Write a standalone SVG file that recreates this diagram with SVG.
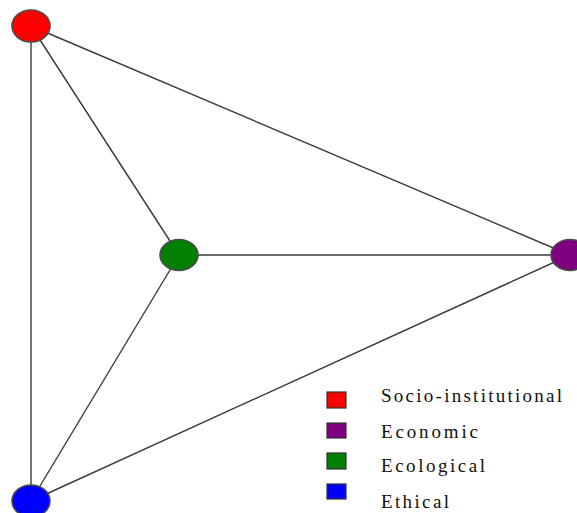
<svg xmlns="http://www.w3.org/2000/svg" width="577" height="513" viewBox="0 0 577 513">
  <style>
    .edge { stroke: #3a3a3a; stroke-width: 1.4; fill: none; }
    .node { stroke: #4a4a4a; stroke-width: 1.6; }
    .key { stroke: #333; stroke-width: 1.2; }
    .label { font-family: "Liberation Serif", "Times New Roman", serif; font-size: 19px; fill: #111; }
  </style>
  <rect width="577" height="513" fill="#ffffff"/>

  <g id="connectors">
    <line class="edge" x1="31" y1="26" x2="31" y2="501"/>
    <line class="edge" x1="31" y1="26" x2="179" y2="255"/>
    <line class="edge" x1="31" y1="26" x2="570" y2="255"/>
    <line class="edge" x1="179" y1="255" x2="570" y2="255"/>
    <line class="edge" x1="179" y1="255" x2="31" y2="501"/>
    <line class="edge" x1="31" y1="501" x2="570" y2="255"/>
  </g>

  <g id="node-socio-institutional">
    <ellipse class="node" cx="31" cy="26" rx="19" ry="16" fill="#ff0000"/>
  </g>
  <g id="node-ecological">
    <ellipse class="node" cx="179" cy="255" rx="19" ry="15.5" fill="#007f00"/>
  </g>
  <g id="node-economic">
    <ellipse class="node" cx="570" cy="255" rx="19" ry="15.5" fill="#7f007f"/>
  </g>
  <g id="node-ethical">
    <ellipse class="node" cx="31" cy="501" rx="19" ry="16" fill="#0000ff"/>
  </g>

  <g id="legend">
    <rect class="key" x="327" y="392" width="19" height="16" fill="#ff0000"/>
    <rect class="key" x="327" y="423" width="19" height="15" fill="#7f007f"/>
    <rect class="key" x="327" y="453" width="19" height="16" fill="#007f00"/>
    <rect class="key" x="327" y="484" width="19" height="15" fill="#0000ff"/>
    <text class="label" x="381" y="402" textLength="181" lengthAdjust="spacing">Socio-institutional</text>
    <text class="label" x="381" y="438" textLength="97" lengthAdjust="spacing">Economic</text>
    <text class="label" x="381" y="472" textLength="104" lengthAdjust="spacing">Ecological</text>
    <text class="label" x="381" y="508" textLength="68" lengthAdjust="spacing">Ethical</text>
  </g>
</svg>
